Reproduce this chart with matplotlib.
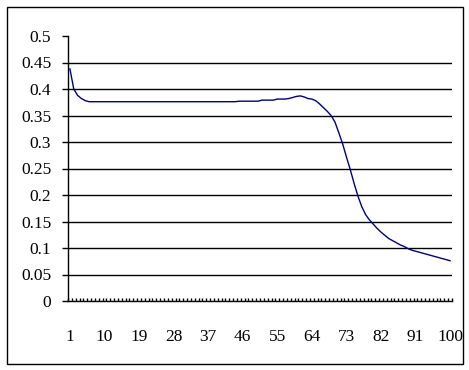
import matplotlib.pyplot as plt
import matplotlib.patches as patches
import numpy as np

# Data (category 1..100)
categories = list(range(1, 101))
values = [
    0.438, 0.400, 0.388, 0.382, 0.378, 0.376, 0.376, 0.376, 0.376, 0.376,
    0.376, 0.376, 0.376, 0.376, 0.376, 0.376, 0.376, 0.376, 0.376, 0.376,
    0.376, 0.376, 0.376, 0.376, 0.376, 0.376, 0.376, 0.376, 0.376, 0.376,
    0.376, 0.376, 0.376, 0.376, 0.376, 0.376, 0.376, 0.376, 0.376, 0.376,
    0.376, 0.376, 0.376, 0.376, 0.377, 0.377, 0.377, 0.377, 0.377, 0.377,
    0.379, 0.379, 0.379, 0.379, 0.381, 0.381, 0.381, 0.382, 0.384, 0.386,
    0.387, 0.385, 0.382, 0.381, 0.378, 0.372, 0.365, 0.358, 0.350, 0.338,
    0.318, 0.297, 0.272, 0.248, 0.222, 0.198, 0.178, 0.163, 0.153, 0.145,
    0.137, 0.130, 0.124, 0.118, 0.114, 0.110, 0.106, 0.103, 0.099, 0.096,
    0.094, 0.092, 0.090, 0.088, 0.086, 0.084, 0.082, 0.080, 0.078, 0.076,
]
x_labels = [1, 10, 19, 28, 37, 46, 55, 64, 73, 82, 91, 100]
y_ticks = [0, 0.05, 0.1, 0.15, 0.2, 0.25, 0.3, 0.35, 0.4, 0.45, 0.5]
y_labels = ["0", "0.05", "0.1", "0.15", "0.2", "0.25", "0.3", "0.35", "0.4", "0.45", "0.5"]

plt.rcParams['font.family'] = ['Liberation Serif', 'DejaVu Serif']

fig = plt.figure(figsize=(4.69, 3.70), dpi=100)
ax = fig.add_axes([68/469, 1 - 301/370, (452 - 68)/469, (301 - 36)/370])

# Horizontal gridlines (none at the top)
for yv in y_ticks[1:-1]:
    ax.axhline(yv, color="black", lw=1.0, zorder=1)

ax.plot(categories, values, color="#000080", lw=1.0, zorder=3)

ax.set_xlim(0.5, 100.5)
ax.set_ylim(0, 0.5)

# Y axis
ax.set_yticks(y_ticks, y_labels)
ax.tick_params(axis="y", direction="out", length=4.5, width=1, pad=7.5,
               labelsize=12.5)

# X axis: inward ticks at category boundaries, labels every 9 categories
ax.set_xticks(np.arange(0.5, 101, 1.0))
ax.tick_params(axis="x", which="major", direction="in", length=2.5, width=1,
               labelbottom=False)
ax.set_xticks(x_labels, [str(v) for v in x_labels], minor=True)
ax.tick_params(axis="x", which="minor", length=0, pad=20, labelsize=12.5)

for side in ["top", "right"]:
    ax.spines[side].set_visible(False)
for side in ["left", "bottom"]:
    ax.spines[side].set_linewidth(1.0)

# Outer border
border = patches.Rectangle((7/469, 1 - 364/370), (463 - 7)/469, (364 - 7)/370,
                           transform=fig.transFigure, fill=False,
                           edgecolor="black", lw=1.0)
fig.patches.append(border)

fig.savefig("out.png", dpi=100)
